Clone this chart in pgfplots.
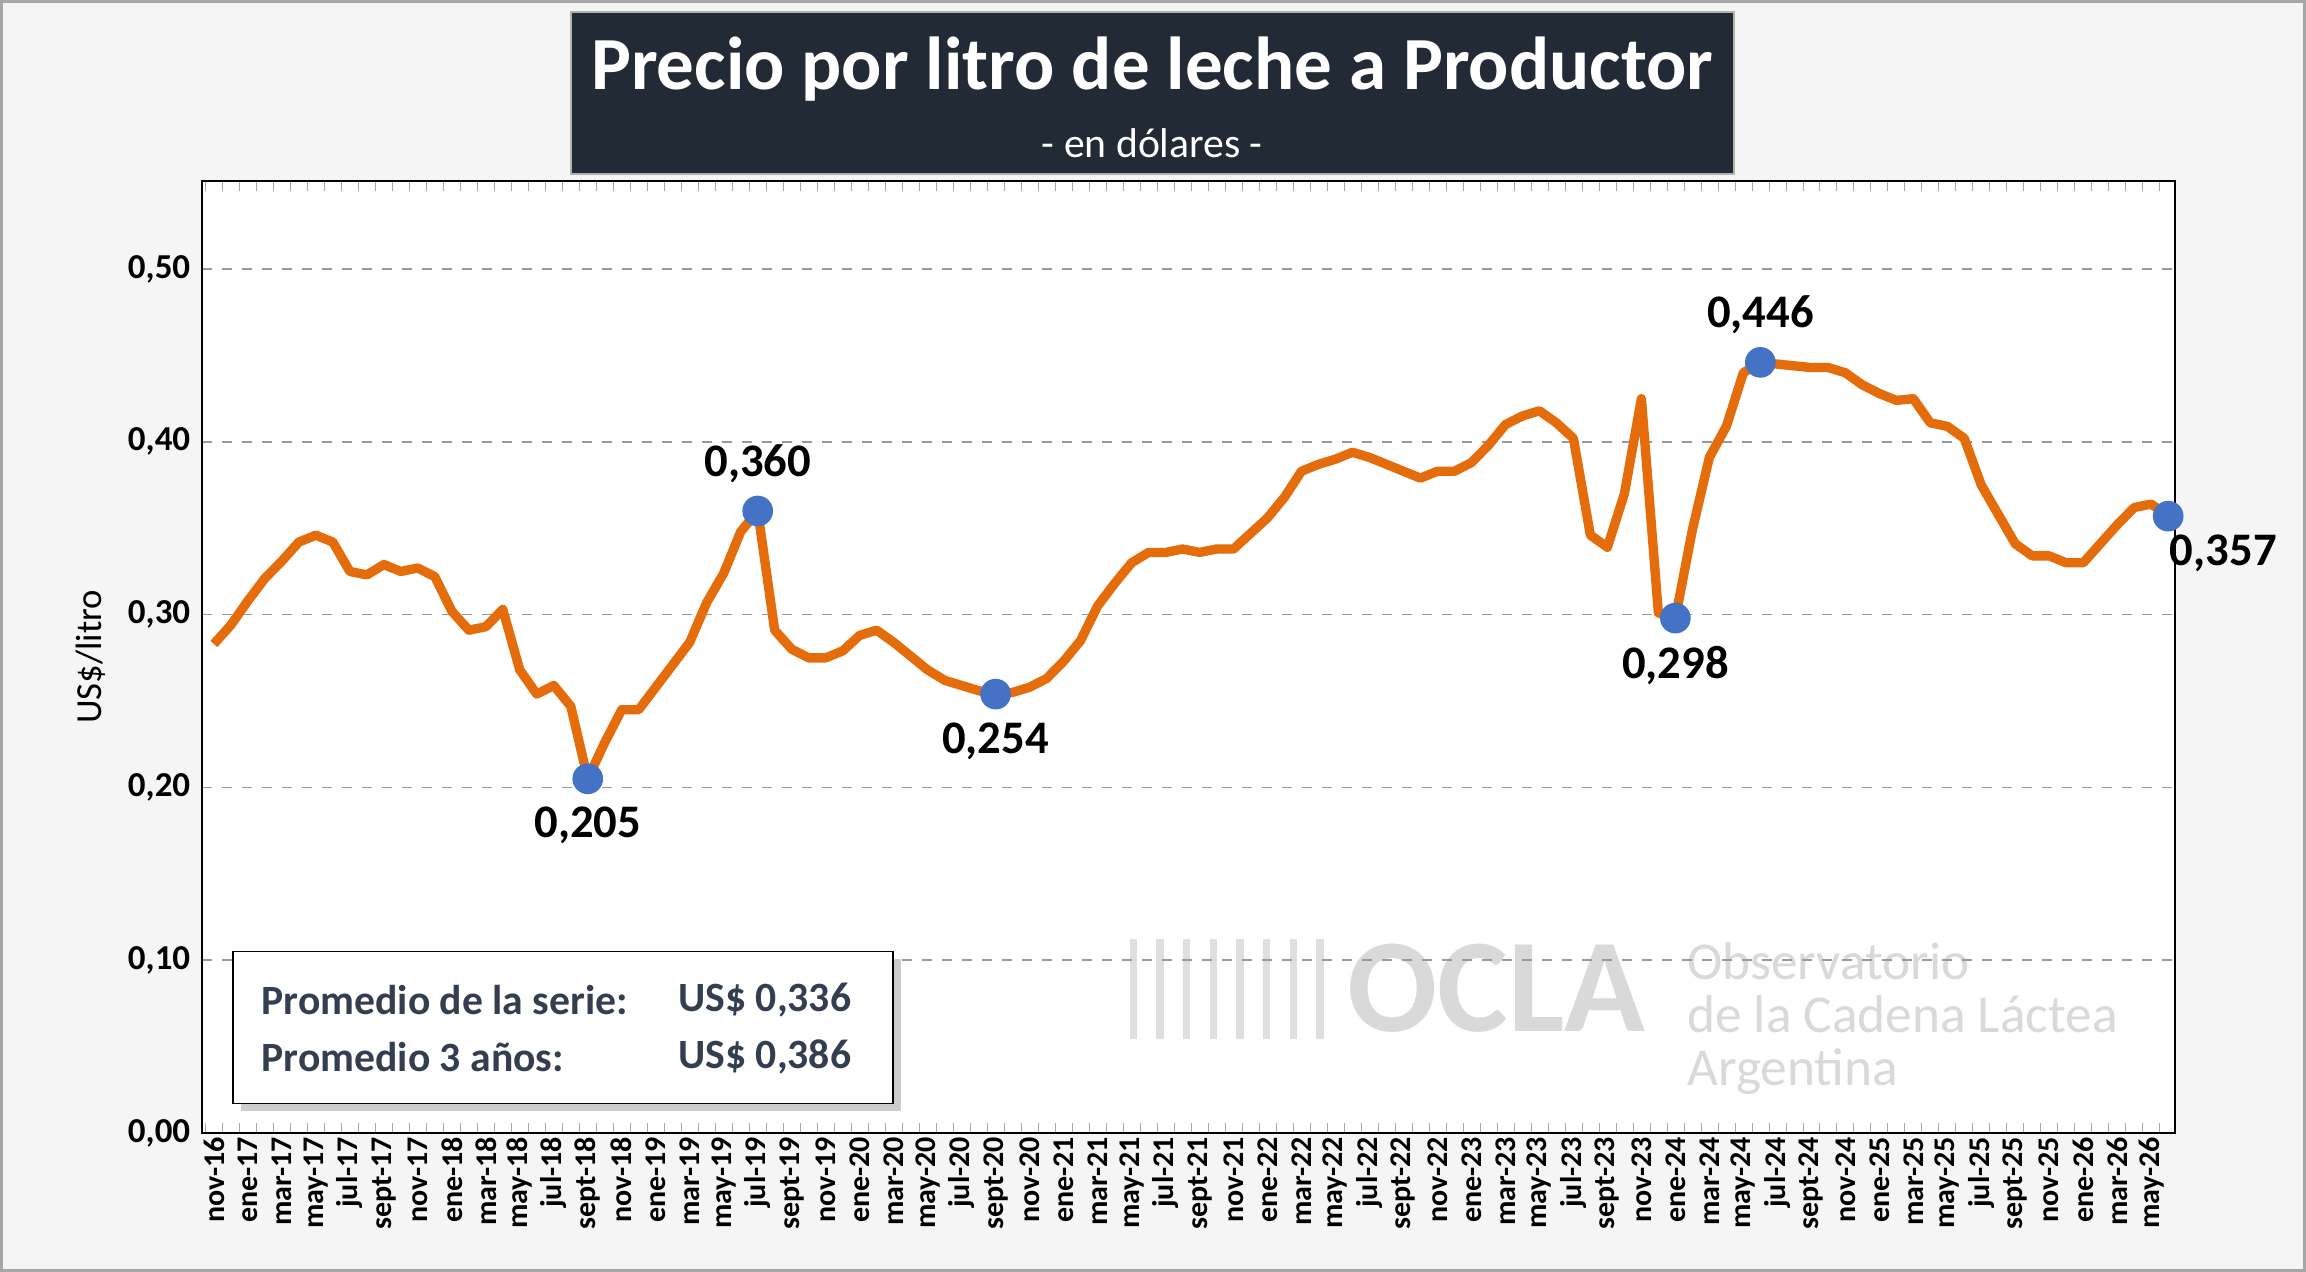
\documentclass[border=0pt]{standalone}
\usepackage{pgfplots}
\pgfplotsset{compat=1.18}
\usepackage{fontspec}
\setmainfont{Carlito}
\usetikzlibrary{shadows}
\definecolor{lineor}{HTML}{E46C0A}
\definecolor{dotb}{HTML}{4472C4}
\definecolor{tbox}{HTML}{222A35}
\definecolor{slate}{HTML}{333F50}
\begin{document}
\begin{tikzpicture}[x=1pt,y=1pt]
\useasboundingbox (0,0) rectangle (691.8,381.6);
\fill[gray!8] (0,0) rectangle (691.8,381.6);
\draw[gray!70,line width=0.8pt] (0.4,0.4) rectangle (691.4,381.2);
\fill[white] (60.6,41.7) rectangle (652.5,327.3);
% watermark
\node[anchor=west,text=gray!30,font=\bfseries\fontsize{40}{40}\selectfont,inner sep=0pt] at (404,85) {OCLA};
\node[anchor=west,text=gray!30,align=left,font=\fontsize{16}{16}\selectfont,inner sep=0pt] at (506,76) {Observatorio\\de la Cadena Láctea\\Argentina};
\foreach \i in {0,...,7}{\draw[gray!25,line width=2.2pt] (340+\i*8,70) -- (340+\i*8,100);}
\begin{axis}[at={(60.6pt,41.7pt)},anchor=south west,scale only axis,
 width=591.9pt,height=285.6pt,
 xmin=-0.7,xmax=115.4,ymin=0,ymax=0.551,
 ytick={0,0.1,...,0.5},
 yticklabel style={/pgf/number format/.cd,fixed,fixed zerofill,precision=2,use comma,assume math mode=true},
 yticklabel={\bfseries\pgfmathprintnumber{\tick}},
 tick label style={font=\bfseries\fontsize{10.5}{12}\selectfont},
 ymajorgrids, grid style={dashed,gray!80,line width=0.5pt},
 xtick={0,2,...,114},
 minor xtick={-0.5,0.5,...,115.5},
 xtick style={draw=none},
 minor tick length=3pt,
 minor x tick style={draw=gray!70},
 xticklabels={nov-16,ene-17,mar-17,may-17,jul-17,sept-17,nov-17,ene-18,mar-18,may-18,jul-18,sept-18,nov-18,ene-19,mar-19,may-19,jul-19,sept-19,nov-19,ene-20,mar-20,may-20,jul-20,sept-20,nov-20,ene-21,mar-21,may-21,jul-21,sept-21,nov-21,ene-22,mar-22,may-22,jul-22,sept-22,nov-22,ene-23,mar-23,may-23,jul-23,sept-23,nov-23,ene-24,mar-24,may-24,jul-24,sept-24,nov-24,ene-25,mar-25,may-25,jul-25,sept-25,nov-25,ene-26,mar-26,may-26},
 xticklabel style={rotate=90,anchor=east,font=\bfseries\fontsize{9}{10}\selectfont,inner sep=1pt},
 ytick style={draw=none},
 axis line style={draw=black,line width=0.6pt},
 ylabel={US\$/litro},ylabel style={font=\fontsize{11}{12}\selectfont},
 clip=false]
\addplot[lineor,line width=2.8pt,line join=round] table {
x y
0 0.283
1 0.294
2 0.308
3 0.321
4 0.331
5 0.342
6 0.346
7 0.342
8 0.325
9 0.323
10 0.329
11 0.325
12 0.327
13 0.322
14 0.302
15 0.291
16 0.293
17 0.303
18 0.268
19 0.254
20 0.259
21 0.247
22 0.205
23 0.226
24 0.245
25 0.245
26 0.258
27 0.271
28 0.284
29 0.307
30 0.324
31 0.348
32 0.360
33 0.291
34 0.280
35 0.275
36 0.275
37 0.279
38 0.288
39 0.291
40 0.284
41 0.276
42 0.268
43 0.262
44 0.259
45 0.256
46 0.254
47 0.255
48 0.258
49 0.263
50 0.273
51 0.285
52 0.305
53 0.318
54 0.330
55 0.336
56 0.336
57 0.338
58 0.336
59 0.338
60 0.338
61 0.347
62 0.356
63 0.368
64 0.383
65 0.387
66 0.390
67 0.394
68 0.391
69 0.387
70 0.383
71 0.379
72 0.383
73 0.383
74 0.388
75 0.398
76 0.410
77 0.415
78 0.418
79 0.411
80 0.402
81 0.346
82 0.339
83 0.370
84 0.425
85 0.301
86 0.298
87 0.349
88 0.391
89 0.409
90 0.440
91 0.446
92 0.445
93 0.444
94 0.443
95 0.443
96 0.440
97 0.433
98 0.428
99 0.424
100 0.425
101 0.411
102 0.409
103 0.402
104 0.375
105 0.358
106 0.341
107 0.334
108 0.334
109 0.330
110 0.330
111 0.341
112 0.352
113 0.362
114 0.364
115 0.357
};
\addplot[only marks,mark=*,mark size=4.4pt,mark options={fill=dotb,draw=dotb}] table {
x y
22 0.205
32 0.360
46 0.254
86 0.298
91 0.446
115 0.357
};
\begin{scope}[every node/.style={font=\bfseries\fontsize{14}{16}\selectfont}]
\node[anchor=north,yshift=-5pt] at (axis cs:22,0.205) {0,205};
\node[anchor=south,yshift=5pt] at (axis cs:32,0.360) {0,360};
\node[anchor=north,yshift=-5pt] at (axis cs:46,0.254) {0,254};
\node[anchor=north,yshift=-5pt] at (axis cs:86,0.298) {0,298};
\node[anchor=south,yshift=5pt] at (axis cs:91,0.446) {0,446};
\node[anchor=north west,xshift=-3pt,yshift=-2pt] at (axis cs:115,0.357) {0,357};
\end{scope}
\end{axis}
% legend box
\node[draw=black,fill=white,drop shadow={opacity=0.4},minimum width=198pt,minimum height=45.6pt,anchor=south west,inner sep=0pt] at (69.7,50.4) {};
\node[anchor=west,text=slate,font=\bfseries\fontsize{12.5}{14}\selectfont] at (75,81.5) {Promedio de la serie:};
\node[anchor=west,text=slate,font=\bfseries\fontsize{12.5}{14}\selectfont] at (200,81.5) {US\$ 0,336};
\node[anchor=west,text=slate,font=\bfseries\fontsize{12.5}{14}\selectfont] at (75,64.5) {Promedio 3 años:};
\node[anchor=west,text=slate,font=\bfseries\fontsize{12.5}{14}\selectfont] at (200,64.5) {US\$ 0,386};
% title
\fill[tbox] (171.3,329.4) rectangle (520.2,378);
\draw[gray!60] (171.3,329.4) rectangle (520.2,378);
\node[text=white,font=\bfseries\fontsize{22.5}{24}\selectfont] at (345.7,361) {Precio por litro de leche a Productor};
\node[text=white,font=\fontsize{12.5}{14}\selectfont] at (345.7,338.5) {- en dólares -};
\end{tikzpicture}
\end{document}
